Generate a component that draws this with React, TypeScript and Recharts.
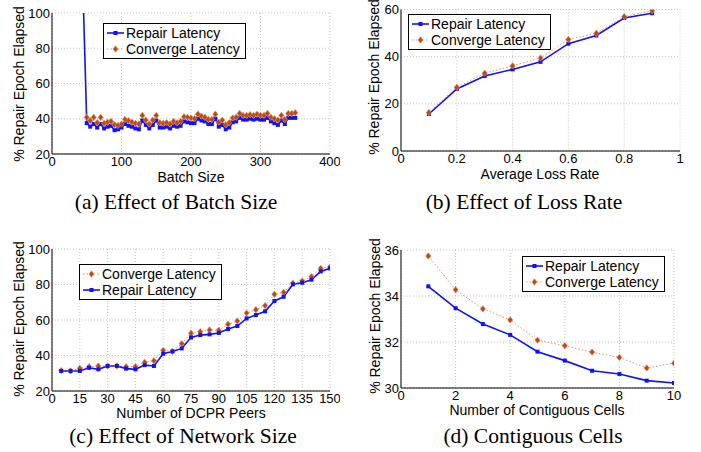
import React from "react";
import { CartesianGrid, Legend, Line, LineChart, XAxis, YAxis } from "recharts";

// (a) batch size
const batchSizes = [45, 50, 55, 60, 65, 70, 75, 80, 85, 90, 95, 100, 105, 110, 115, 120, 125, 130, 135, 140, 145, 150, 155, 160, 165, 170, 175, 180, 185, 190, 195, 200, 205, 210, 215, 220, 225, 230, 235, 240, 245, 250, 255, 260, 265, 270, 275, 280, 285, 290, 295, 300, 305, 310, 315, 320, 325, 330, 335, 340, 345, 350];
const batchRepair = [107, 37.5, 35.5, 37, 35, 37, 34.5, 35.5, 36, 33.5, 34, 35, 37, 36, 35.5, 34.5, 34, 39, 36.5, 34.5, 36.5, 39, 35, 35, 35.5, 34.5, 36, 35.5, 36, 38.5, 38, 37.5, 37.5, 40, 39, 38.5, 37, 37, 40, 35.5, 36.5, 34, 35, 38, 38.5, 40.5, 39.5, 39.5, 40, 39.5, 40, 39.5, 39.5, 40.5, 38.5, 37.5, 36.5, 39, 37, 40.5, 40.5, 40.5];
const batchConverge = [null, 40.8, 38.9, 40.8, 37.7, 40.8, 37.4, 38.1, 38.5, 36.6, 36.2, 37, 39.6, 38.9, 38.1, 37.4, 37, 41.9, 39.2, 37, 39.2, 41.9, 37.7, 37.4, 37.7, 37, 38.5, 37.7, 38.5, 41.1, 40.8, 40.4, 40, 42.6, 41.5, 40.8, 39.6, 39.6, 42.6, 38.1, 39.2, 36.6, 37.7, 40.4, 40.8, 43, 41.9, 41.9, 42.3, 41.9, 42.6, 41.9, 41.9, 43, 40.8, 40, 39.2, 41.9, 39.6, 43, 43, 43.4];

// (b) loss rate
const lossRates = [0.1, 0.2, 0.3, 0.4, 0.5, 0.6, 0.7, 0.8, 0.9];
const lossRepair = [15.7, 26.3, 31.8, 34.6, 37.8, 45.5, 49, 56.4, 58.4];
const lossConverge = [16.3, 27, 33, 36.1, 39.4, 47.3, 49.9, 57, 59.5];

// (c) network size
const peers = [5, 10, 15, 20, 25, 30, 35, 40, 45, 50, 55, 60, 65, 70, 75, 80, 85, 90, 95, 100, 105, 110, 115, 120, 125, 130, 135, 140, 145, 150];
const peersRepair = [31.3, 31.3, 31.3, 33.1, 32.2, 34.1, 34.1, 32.6, 32.2, 34.6, 34.1, 41, 42.3, 44, 50.2, 51.5, 51.9, 52.7, 54.9, 56.6, 60.9, 62.8, 64.9, 70.7, 73.1, 80.1, 81, 82.7, 87.4, 89.1];
const peersConverge = [31.5, 31.3, 32.8, 33.7, 34.1, 34.1, 34.1, 33.7, 33.7, 36.2, 37.1, 42.9, 42.3, 46.7, 52.5, 53.4, 54.4, 54.2, 57.6, 59.4, 63.9, 65.8, 68.1, 74.5, 75.6, 80.7, 82, 84.4, 89.1, 89.9];

// (d) contiguous cells
const cells = [1, 2, 3, 4, 5, 6, 7, 8, 9, 10];
const cellsRepair = [34.42, 33.47, 32.78, 32.31, 31.58, 31.19, 30.75, 30.61, 30.32, 30.22];
const cellsConverge = [35.74, 34.27, 33.44, 32.96, 32.08, 31.84, 31.56, 31.33, 30.87, 31.08];

const BLUE = "#1010ff";
const BROWN = "#b84a12";
const SANS = "'Liberation Sans', Arial, sans-serif";
const SERIF = "'Liberation Serif', 'Times New Roman', serif";

const rows = (xs: number[], r: (number | null)[], c: (number | null)[]) =>
  xs.map((x, i) => ({ x, repair: r[i], converge: c[i] }));

const Square = (p: any) => {
  if (p.cx == null || p.cy == null || p.value == null) return <g key={p.index} />;
  return <rect key={p.index} x={p.cx - 2} y={p.cy - 2} width={4} height={4} fill={BLUE} />;
};

const Diamond = (p: any) => {
  if (p.cx == null || p.cy == null || p.value == null) return <g key={p.index} />;
  const { cx, cy } = p;
  return (
    <polygon key={p.index} points={`${cx},${cy - 3.2} ${cx + 2.6},${cy} ${cx},${cy + 3.2} ${cx - 2.6},${cy}`}
      fill={BROWN} stroke="#e08a5a" strokeWidth={0.7} />
  );
};

const LegendBox = ({ payload, order }: any) => {
  const items = [...(payload || [])].sort((a: any, b: any) => order.indexOf(a.dataKey) - order.indexOf(b.dataKey));
  return (
    <div style={{ border: "1px solid #000", background: "#fff", padding: "1px 5px 1px 3px", fontFamily: SANS, fontSize: 14, lineHeight: "16px" }}>
      {items.map((e: any) => (
        <div key={e.dataKey} style={{ display: "flex", alignItems: "center", whiteSpace: "nowrap" }}>
          <svg width={17} height={12} style={{ marginRight: 2 }}>
            {e.dataKey === "repair" ? (
              <>
                <line x1={0} y1={6} x2={17} y2={6} stroke={BLUE} strokeWidth={1.6} />
                <rect x={6.5} y={4} width={4} height={4} fill={BLUE} />
              </>
            ) : (
              <>
                <line x1={0} y1={6} x2={17} y2={6} stroke="#e0906a" strokeWidth={1} strokeDasharray="1.5 2" />
                <polygon points="8.5,2.8 11,6 8.5,9.2 6,6" fill={BROWN} stroke="#e08a5a" strokeWidth={0.7} />
              </>
            )}
          </svg>
          <span>{e.value}</span>
        </div>
      ))}
    </div>
  );
};

interface PanelProps {
  left: number; top: number; width: number; height: number; mTop: number; yWidth: number;
  data: any[]; xDomain: number[]; xTicks: number[]; yDomain: number[]; yTicks: number[];
  convergeFirst?: boolean; legendAt: { left: number; top: number };
}

function Panel(p: PanelProps) {
  const tick = { fontSize: 13, fill: "#000", fontFamily: SANS };
  const axis = { stroke: "#000", strokeWidth: 1 };
  const order = p.convergeFirst ? ["converge", "repair"] : ["repair", "converge"];
  const repair = (
    <Line key="r" dataKey="repair" name="Repair Latency" stroke={BLUE} strokeWidth={1.6} dot={Square}
      activeDot={false} isAnimationActive={false} />
  );
  const converge = (
    <Line key="c" dataKey="converge" name="Converge Latency" stroke="#e0906a" strokeWidth={1} strokeDasharray="1.5 2"
      dot={Diamond} activeDot={false} isAnimationActive={false} />
  );
  return (
    <div style={{ position: "absolute", left: p.left, top: p.top }}>
      <LineChart width={p.width} height={p.height} data={p.data} margin={{ top: p.mTop, right: 10, bottom: 0, left: 0 }}>
        <CartesianGrid stroke="#c4c4c4" strokeDasharray="1 2" />
        <XAxis dataKey="x" type="number" domain={p.xDomain} ticks={p.xTicks} interval={0} tick={tick}
          tickLine={false} tickSize={3} tickMargin={0} axisLine={axis} height={20} allowDataOverflow />
        <XAxis xAxisId="top" orientation="top" type="number" domain={p.xDomain} tick={false} tickLine={false}
          axisLine={axis} height={0} />
        <YAxis type="number" domain={p.yDomain} ticks={p.yTicks} interval={0} tick={tick} tickLine={false}
          tickSize={2} tickMargin={0} axisLine={axis} width={p.yWidth} allowDataOverflow />
        <YAxis yAxisId="right" orientation="right" type="number" domain={p.yDomain} tick={false} tickLine={false}
          axisLine={axis} width={0} />
        {p.convergeFirst ? [converge, repair] : [repair, converge]}
        <Legend layout="horizontal" verticalAlign="middle" align="center"
          content={(props: any) => <LegendBox {...props} order={order} />}
          wrapperStyle={{ left: p.legendAt.left - p.left, top: p.legendAt.top - p.top, width: "auto" }} />
      </LineChart>
    </div>
  );
}

const Txt = ({ x, y, size, family, rotate, children }: any) => (
  <div style={{
    position: "absolute", left: x, top: y, fontSize: size, fontFamily: family, lineHeight: 1, whiteSpace: "nowrap",
    transform: `translate(-50%, -50%)${rotate ? " rotate(-90deg)" : ""}`, color: "#000",
  }}>{children}</div>
);

export default function App() {
  const yLab = "% Repair Epoch Elapsed";
  return (
    <div style={{ position: "absolute", left: 0, top: 0, width: 701, height: 452, background: "#fff", overflow: "hidden" }}>
      <Panel left={0} top={0} width={340} height={174} mTop={13} yWidth={52}
        data={rows(batchSizes, batchRepair, batchConverge)} xDomain={[0, 400]} xTicks={[0, 100, 200, 300, 400]}
        yDomain={[20, 100]} yTicks={[20, 40, 60, 80, 100]} legendAt={{ left: 103, top: 23 }} />
      <Panel left={350} top={0} width={340} height={171} mTop={9.5} yWidth={51}
        data={rows(lossRates, lossRepair, lossConverge)} xDomain={[0, 1]} xTicks={[0, 0.2, 0.4, 0.6, 0.8, 1]}
        yDomain={[0, 60]} yTicks={[0, 20, 40, 60]} legendAt={{ left: 408, top: 14 }} />
      <Panel left={0} top={225} width={340} height={186} mTop={24} yWidth={52}
        data={rows(peers, peersRepair, peersConverge)} xDomain={[0, 150]}
        xTicks={[0, 15, 30, 45, 60, 75, 90, 105, 120, 135, 150]}
        yDomain={[20, 100]} yTicks={[20, 40, 60, 80, 100]} convergeFirst legendAt={{ left: 79, top: 264 }} />
      <Panel left={350} top={225} width={334} height={183} mTop={25} yWidth={51}
        data={rows(cells, cellsRepair, cellsConverge)} xDomain={[0, 10]} xTicks={[0, 2, 4, 6, 8, 10]}
        yDomain={[30, 36]} yTicks={[30, 32, 34, 36]} legendAt={{ left: 522, top: 256 }} />

      <Txt x={19} y={84} size={14} family={SANS} rotate>{yLab}</Txt>
      <Txt x={374} y={77} size={14} family={SANS} rotate>{yLab}</Txt>
      <Txt x={19} y={319} size={14} family={SANS} rotate>{yLab}</Txt>
      <Txt x={375} y={316} size={14} family={SANS} rotate>{yLab}</Txt>

      <Txt x={191} y={177} size={14} family={SANS}>Batch Size</Txt>
      <Txt x={540} y={174} size={14} family={SANS}>Average Loss Rate</Txt>
      <Txt x={191} y={413} size={14} family={SANS}>Number of DCPR Peers</Txt>
      <Txt x={537} y={410} size={14} family={SANS}>Number of Contiguous Cells</Txt>

      <Txt x={176} y={203} size={21.5} family={SERIF}>(a) Effect of Batch Size</Txt>
      <Txt x={524} y={203} size={21.5} family={SERIF}>(b) Effect of Loss Rate</Txt>
      <Txt x={183} y={437} size={21.5} family={SERIF}>(c) Effect of Network Size</Txt>
      <Txt x={533} y={437} size={21.5} family={SERIF}>(d) Contiguous Cells</Txt>
    </div>
  );
}
